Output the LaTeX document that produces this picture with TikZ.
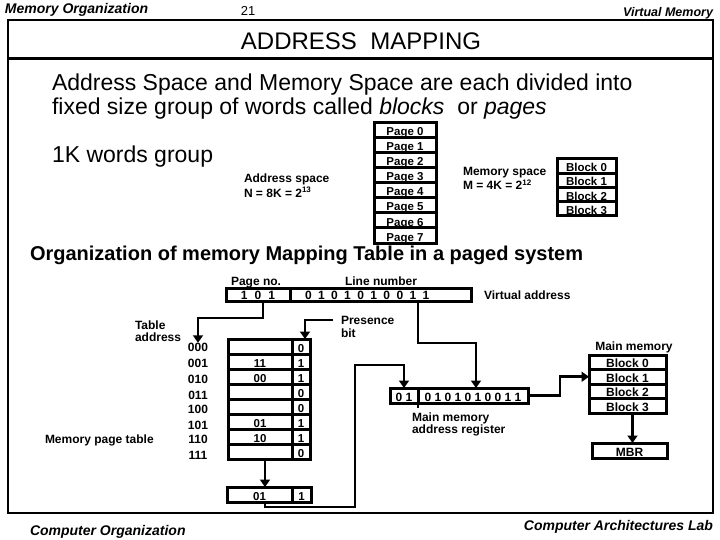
\documentclass[tikz,border=0pt]{standalone}
\usepackage{fontspec}
\setmainfont{Liberation Sans}
\usetikzlibrary{arrows.meta,calc}
\newcommand\myfs[1]{\fontsize{#1}{#1}\selectfont}
\begin{document}
\begin{tikzpicture}[x=1pt,y=-1pt,
  cell/.style={draw,line width=3pt,inner sep=0pt,outer sep=0pt,minimum height=15pt,
    text height=11pt,text depth=0pt,font=\myfs{11.5}\bfseries},
  txt/.style={inner sep=0pt,outer sep=0pt},
  lbl/.style={txt,font=\myfs{12}\bfseries},
  big/.style={txt,font=\myfs{23}},
  hdr/.style={txt,font=\myfs{14}\bfseries\itshape},
  arr/.style={line width=2.8pt,-{Triangle[width=10pt,length=7.5pt]}},
  wire/.style={line width=2.8pt}]
\useasboundingbox (0,0) rectangle (720,540);
% header and footer
\node[hdr,anchor=base west] (h1) at (5,14) {Memory Organization};
\node[txt,anchor=base,font=\myfs{13}] (h2) at (248,16) {21};
\node[hdr,font=\myfs{12.5}\bfseries\itshape,anchor=base east] (h3) at (713,17) {Virtual Memory};
\node[hdr,anchor=base west] (f1) at (30,535) {Computer Organization};
\node[hdr,anchor=base east] (f2) at (713,530) {Computer Architectures Lab};
% frame
\draw[line width=1.4pt] (8,20) rectangle (713,513);
\draw[line width=3.5pt] (8,58.5) -- (713,58.5);
\node[txt,font=\myfs{24}] (title) at (361,41) {ADDRESS\ \ MAPPING};
% intro text
\node[big,anchor=base west] (t1) at (52,91) {Address Space and Memory Space are each divided into};
\node[big,anchor=base west] (t2) at (52,115) {fixed size group of words called \textit{blocks}\ \ or \textit{pages}};
\node[big,anchor=base west] (t3) at (52,163) {1K words group};
\node[lbl,anchor=base west,align=left] (as1) at (244,183) {Address space};
\node[lbl,anchor=base west] (as2) at (244,197) {N = 8K = 2\textsuperscript{13}};
\node[lbl,anchor=base west] (ms1) at (463,176) {Memory space};
\node[lbl,anchor=base west] (ms2) at (463,190) {M = 4K = 2\textsuperscript{12}};
% page column
\foreach \i in {0,...,7}
  \node[cell,minimum width=62pt] (pg\i) at (405,{130.5+15*\i}) {Page \i};
% block column
\foreach \i in {0,...,3}
  \node[cell,minimum width=59pt,minimum height=14.25pt] (bk\i) at (586.5,{166.1+14.25*\i}) {Block \i};
% section title
\node[txt,anchor=base west,font=\myfs{20}\bfseries] (org) at (30,260) {Organization of memory Mapping Table in a paged system};
% virtual address register
\node[lbl,anchor=base west] (pno) at (231,285) {Page no.};
\node[lbl,anchor=base west] (lno) at (345,285) {Line number};
\node[cell,minimum width=64pt,minimum height=13pt,text height=10.5pt,font=\myfs{12}\bfseries] (vap) at (258,294.5) {1\hspace{7pt}0\hspace{7pt}1};
\node[cell,minimum width=181pt,minimum height=13pt] (val) at (380.5,294.5) {};
\node[lbl,anchor=base west] (valt) at (305,299.5) {0\hspace{6.4pt}1\hspace{6.4pt}0\hspace{6.4pt}1\hspace{6.4pt}0\hspace{6.4pt}1\hspace{6.4pt}0\hspace{6.4pt}0\hspace{6.4pt}1\hspace{6.4pt}1};
\node[lbl,anchor=base west] (vad) at (484,299) {Virtual address};
% table labels
\node[lbl,anchor=base west] (ta1) at (135,329) {Table};
\node[lbl,anchor=base west] (ta2) at (135,341) {address};
\node[lbl,anchor=base west] (pb1) at (341,324) {Presence};
\node[lbl,anchor=base west] (pb2) at (341,337) {bit};
\node[lbl,anchor=base west] (mpt) at (45,443) {Memory page table};
\foreach \i/\t/\y in {0/000/347,1/001/363,2/010/379,3/011/395,4/100/409,5/101/425,6/110/439,7/111/455}
  \node[lbl] (lab\i) at (198,\y) {\t};
% page table
\foreach \i/\a/\b in {0//0,1/11/1,2/00/1,3//0,4//0,5/01/1,6/10/1,7//0}{
  \node[cell,minimum width=64pt] (ta\i) at (260,{346.5+15*\i}) {\a};
  \node[cell,minimum width=18pt] (tb\i) at (301,{346.5+15*\i}) {\b};
}
% selected entry
\node[cell,minimum width=65pt] (pa) at (259.5,494.5) {01};
\node[cell,minimum width=19pt] (pbx) at (301.5,494.5) {1};
% main memory address register
\node[cell,minimum width=28pt,font=\myfs{12}\bfseries] (ma) at (404,395.5) {0 1};
\node[cell,minimum width=110pt,font=\myfs{12}\bfseries] (mb) at (473,395.5) {0 1 0 1 0 1 0 0 1 1};
\draw[wire] (ma.south east) -- ++(0,5);
\node[lbl,anchor=base west] (mar1) at (412,421) {Main memory};
\node[lbl,anchor=base west] (mar2) at (412,433) {address register};
% main memory
\node[lbl,anchor=base] (mmt) at (634,350) {Main memory};
\foreach \i in {0,...,3}
  \node[cell,minimum width=77pt,minimum height=14.5pt,font=\myfs{12}\bfseries] (mm\i) at (627.5,{362.25+14.5*\i}) {Block \i};
\node[cell,minimum width=75pt,font=\myfs{12}\bfseries] (mbr) at (629.5,450.5) {MBR};
% connectors
\draw[arr] ([xshift=5pt]vap.south) -- ++(0,17) -| (lab0.north);
\draw[arr] ([xshift=-8pt]pb1.west) -| ([xshift=4pt]tb0.north);
\draw[arr] ([xshift=5pt]ta7.south) -- ([xshift=5.5pt]pa.north);
\draw[arr] ([xshift=5.5pt]pa.south) -- ++(0,5) -- ++(90,0) |- ($(ma.north)+(0,-23)$) -| (ma.north);
\draw[arr] ([xshift=128pt]val.south west) -- ++(0,42) -| ([xshift=3pt]mb.north);
\draw[arr] (mb.east) -- ++(32,0) |- (mm1.west);
\draw[arr] ([xshift=5pt]mm3.south) -- ([xshift=5pt]mm3.south |- mbr.north);
\end{tikzpicture}
\end{document}
